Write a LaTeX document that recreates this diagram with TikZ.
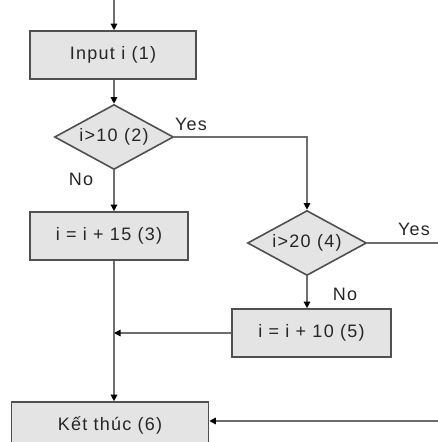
\documentclass[tikz,border=0pt]{standalone}
\usepackage{fontspec}
\setmainfont[LetterSpace=7]{Liberation Sans}
\usepackage{xcolor}
\usepackage{tikz}
\usetikzlibrary{positioning,shapes,arrows,arrows.meta,calc}
\definecolor{boxfill}{RGB}{228,228,228}
\definecolor{boxline}{RGB}{80,80,80}
\definecolor{flowline}{RGB}{110,110,110}
\tikzset{%
	block/.style    = {draw=boxline, fill=boxfill, line width=1.6pt, rectangle, minimum height = 48pt,
		minimum width = 160pt, text=black!85, font=\fontsize{18}{21}\selectfont},
	decision/.style = {draw=boxline, fill=boxfill, line width=1.6pt, diamond, aspect=1.83,
		minimum width = 119pt, minimum height = 65pt, inner sep=0pt, text=black!85,
		font=\fontsize{18}{21}\selectfont},
	lbl/.style      = {text=black!85, font=\fontsize{18}{21}\selectfont},
	flow/.style     = {draw=flowline, line width=1.3pt}
}
\begin{document}
\begin{tikzpicture}[>={Triangle[black, length=6.5pt, width=6.5pt]}]
	\useasboundingbox (0,0) rectangle (438pt,-442pt);
	
	\node [block, minimum width=166pt] at (113pt,-55pt) (input) {Input i (1)};
	\node [decision] at (114pt,-137pt) (cond1) {i>10 (2)};
	\node [block, minimum width=158pt] at (109pt,-236pt) (add15) {i = i + 15 (3)};
	\node [decision] at (307pt,-243pt) (cond2) {i>20 (4)};
	\node [block, minimum width=159pt] at (311.5pt,-333pt) (add10) {i = i + 10 (5)};
	\node [block, minimum width=197pt, minimum height=46pt] at (110pt,-425pt) (finish) {Kết thúc (6)};
	
	\coordinate (start) at (114pt,0);
	\coordinate (exit) at (438pt,-243pt);
	\coordinate (entry) at (438pt,-421pt);
	
	\node [lbl] (yes1) at (191pt,-124pt) {Yes};
	\node [lbl] (no1) at (81pt,-179pt) {No};
	\node [lbl] (yes2) at (414pt,-229pt) {Yes};
	\node [lbl] (no2) at (345pt,-294pt) {No};
	
	\draw[flow,->] (start) -- (start |- input.north);
	\draw[flow,->] (cond1.north |- input.south) -- (cond1.north);
	\draw[flow,->] (cond1.south) -- (cond1.south |- add15.north);
	\draw[flow,->] (cond1.east) -| (cond2.north);
	\draw[flow] (cond2.east) -- (exit);
	\draw[flow,->] (cond2.south) -- (cond2.south |- add10.north);
	\draw[flow,->] (add10.west) -- (add10.west -| cond1.south);
	\draw[flow,->] (cond1.south |- add15.south) -- (cond1.south |- finish.north);
	\draw[flow,->] (entry) -- (entry -| finish.east);
	
\end{tikzpicture}
\end{document}
